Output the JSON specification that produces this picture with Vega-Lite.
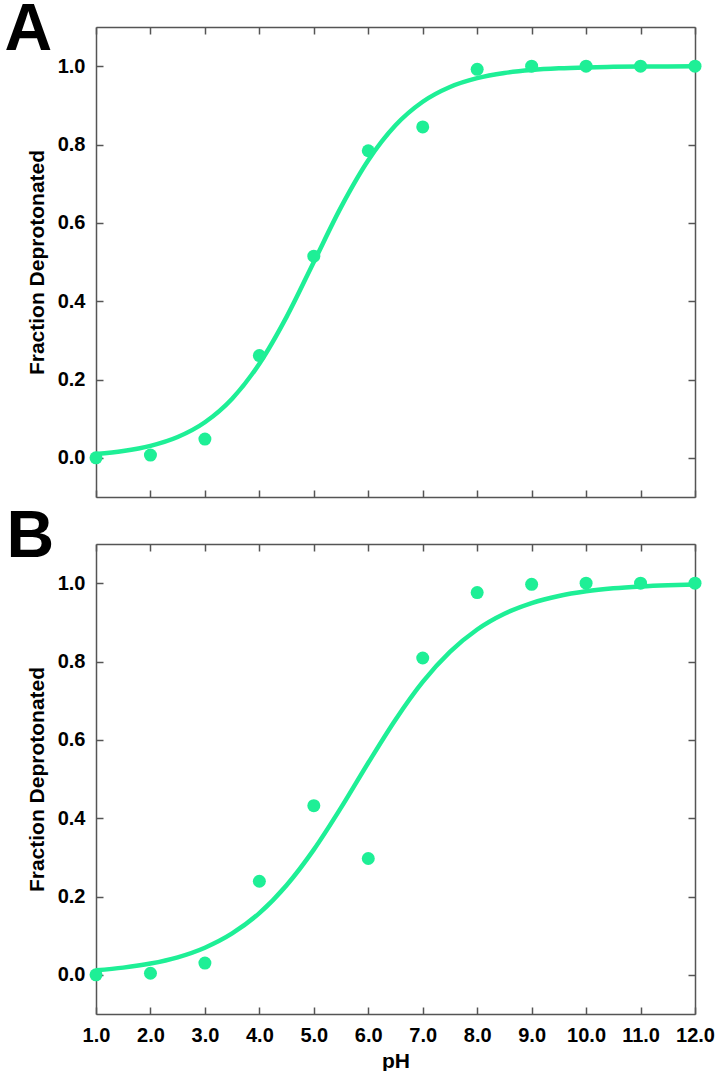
{
  "$schema": "https://vega.github.io/schema/vega-lite/v6.json",
  "background": "white",
  "padding": {"left": 4, "top": -4, "right": 4, "bottom": 0},
  "bounds": "flush",
  "spacing": 47,
  "config": {
    "view": {"stroke": null},
    "font": "Liberation Sans",
    "axis": {
      "grid": false,
      "domainColor": "#555555",
      "domainWidth": 1.5,
      "tickColor": "#555555",
      "tickWidth": 1.5,
      "tickSize": -7,
      "labelFont": "Liberation Sans",
      "labelFontWeight": "bold",
      "labelFontSize": 20,
      "labelColor": "black",
      "labelOverlap": false,
      "labelFlush": false,
      "titleFont": "Liberation Sans",
      "titleFontWeight": "bold",
      "titleFontSize": 21,
      "titleColor": "black"
    }
  },
  "datasets": {
    "curveA": [
      {"pH": 1.0, "f": 0.0099}, {"pH": 1.5, "f": 0.0175}, {"pH": 2.0, "f": 0.0307}, {"pH": 2.5, "f": 0.0532},
      {"pH": 3.0, "f": 0.0909}, {"pH": 3.5, "f": 0.151}, {"pH": 4.0, "f": 0.2403}, {"pH": 4.5, "f": 0.3599},
      {"pH": 5.0, "f": 0.5}, {"pH": 5.5, "f": 0.6401}, {"pH": 6.0, "f": 0.7597}, {"pH": 6.5, "f": 0.849},
      {"pH": 7.0, "f": 0.9091}, {"pH": 7.5, "f": 0.9468}, {"pH": 8.0, "f": 0.9693}, {"pH": 8.5, "f": 0.9825},
      {"pH": 9.0, "f": 0.9901}, {"pH": 9.5, "f": 0.9944}, {"pH": 10.0, "f": 0.9968}, {"pH": 10.5, "f": 0.9982},
      {"pH": 11.0, "f": 0.999}, {"pH": 11.5, "f": 0.9994}, {"pH": 12.0, "f": 0.9997}
    ],
    "pointsA": [
      {"pH": 1, "f": 0.0}, {"pH": 2, "f": 0.007}, {"pH": 3, "f": 0.048}, {"pH": 4, "f": 0.261},
      {"pH": 5, "f": 0.515}, {"pH": 6, "f": 0.784}, {"pH": 7, "f": 0.845}, {"pH": 8, "f": 0.992},
      {"pH": 9, "f": 1.0}, {"pH": 10, "f": 1.0}, {"pH": 11, "f": 1.0}, {"pH": 12, "f": 1.0}
    ],
    "curveB": [
      {"pH": 1.0, "f": 0.0117}, {"pH": 1.5, "f": 0.0184}, {"pH": 2.0, "f": 0.0288}, {"pH": 2.5, "f": 0.0448},
      {"pH": 3.0, "f": 0.0693}, {"pH": 3.5, "f": 0.1056}, {"pH": 4.0, "f": 0.1575}, {"pH": 4.5, "f": 0.2288},
      {"pH": 5.0, "f": 0.3197}, {"pH": 5.5, "f": 0.4268}, {"pH": 6.0, "f": 0.5414}, {"pH": 6.5, "f": 0.6515},
      {"pH": 7.0, "f": 0.7479}, {"pH": 7.5, "f": 0.8245}, {"pH": 8.0, "f": 0.8817}, {"pH": 8.5, "f": 0.9219},
      {"pH": 9.0, "f": 0.9492}, {"pH": 9.5, "f": 0.9674}, {"pH": 10.0, "f": 0.9792}, {"pH": 10.5, "f": 0.9868},
      {"pH": 11.0, "f": 0.9916}, {"pH": 11.5, "f": 0.9947}, {"pH": 12.0, "f": 0.9966}
    ],
    "pointsB": [
      {"pH": 1, "f": 0.0}, {"pH": 2, "f": 0.004}, {"pH": 3, "f": 0.03}, {"pH": 4, "f": 0.239},
      {"pH": 5, "f": 0.432}, {"pH": 6, "f": 0.297}, {"pH": 7, "f": 0.809}, {"pH": 8, "f": 0.976},
      {"pH": 9, "f": 0.997}, {"pH": 10, "f": 1.0}, {"pH": 11, "f": 1.0}, {"pH": 12, "f": 1.0}
    ]
  },
  "vconcat": [
    {
      "width": 599,
      "height": 470,
      "resolve": {"axis": {"x": "independent", "y": "independent"}},
      "layer": [
        {
          "data": {"name": "curveA"},
          "mark": {"type": "line", "color": "#1EEF96", "strokeWidth": 4.5, "interpolate": "monotone"},
          "encoding": {
            "x": {"field": "pH", "type": "quantitative", "scale": {"domain": [1, 12], "nice": false, "zero": false},
                  "axis": {"orient": "bottom", "values": [1,2,3,4,5,6,7,8,9,10,11,12], "labels": false, "title": null}},
            "y": {"field": "f", "type": "quantitative", "scale": {"domain": [-0.1, 1.1], "nice": false, "zero": false},
                  "axis": {"orient": "left", "values": [0, 0.2, 0.4, 0.6, 0.8, 1.0], "format": ".1f", "labelPadding": 18, "title": "Fraction Deprotonated", "titlePadding": 10}}
          }
        },
        {
          "data": {"name": "pointsA"},
          "mark": {"type": "point", "filled": true, "shape": "circle", "size": 169, "color": "#1EEF96", "opacity": 1},
          "encoding": {
            "x": {"field": "pH", "type": "quantitative", "scale": {"domain": [1, 12], "nice": false, "zero": false},
                  "axis": {"orient": "top", "values": [1,2,3,4,5,6,7,8,9,10,11,12], "labels": false,
                           "title": "A", "titleFontSize": 66, "titleX": -92, "titleY": 22, "titleAlign": "left", "titleBaseline": "alphabetic", "titleAngle": 0}},
            "y": {"field": "f", "type": "quantitative", "scale": {"domain": [-0.1, 1.1], "nice": false, "zero": false},
                  "axis": {"orient": "right", "values": [0, 0.2, 0.4, 0.6, 0.8, 1.0], "labels": false, "title": null}}
          }
        }
      ]
    },
    {
      "width": 599,
      "height": 470,
      "resolve": {"axis": {"x": "independent", "y": "independent"}},
      "layer": [
        {
          "data": {"name": "curveB"},
          "mark": {"type": "line", "color": "#1EEF96", "strokeWidth": 4.5, "interpolate": "monotone"},
          "encoding": {
            "x": {"field": "pH", "type": "quantitative", "scale": {"domain": [1, 12], "nice": false, "zero": false},
                  "axis": {"orient": "bottom", "values": [1,2,3,4,5,6,7,8,9,10,11,12], "format": ".1f", "labelPadding": 18, "title": "pH", "titlePadding": 5}},
            "y": {"field": "f", "type": "quantitative", "scale": {"domain": [-0.1, 1.1], "nice": false, "zero": false},
                  "axis": {"orient": "left", "values": [0, 0.2, 0.4, 0.6, 0.8, 1.0], "format": ".1f", "labelPadding": 18, "title": "Fraction Deprotonated", "titlePadding": 10}}
          }
        },
        {
          "data": {"name": "pointsB"},
          "mark": {"type": "point", "filled": true, "shape": "circle", "size": 169, "color": "#1EEF96", "opacity": 1},
          "encoding": {
            "x": {"field": "pH", "type": "quantitative", "scale": {"domain": [1, 12], "nice": false, "zero": false},
                  "axis": {"orient": "top", "values": [1,2,3,4,5,6,7,8,9,10,11,12], "labels": false,
                           "title": "B", "titleFontSize": 66, "titleX": -90, "titleY": 12, "titleAlign": "left", "titleBaseline": "alphabetic", "titleAngle": 0}},
            "y": {"field": "f", "type": "quantitative", "scale": {"domain": [-0.1, 1.1], "nice": false, "zero": false},
                  "axis": {"orient": "right", "values": [0, 0.2, 0.4, 0.6, 0.8, 1.0], "labels": false, "title": null}}
          }
        }
      ]
    }
  ]
}
